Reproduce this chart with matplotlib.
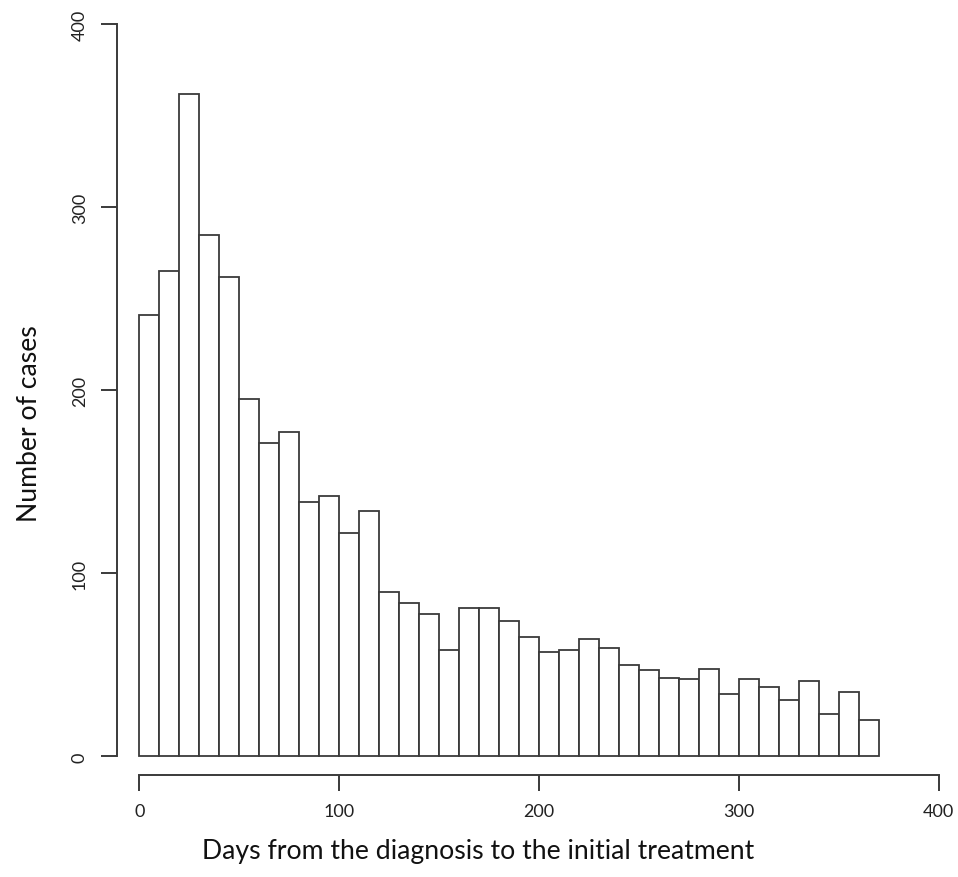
import matplotlib
matplotlib.use('Agg')
import matplotlib.pyplot as plt
import numpy as np

# bin edges (days) and counts
bins = np.arange(0, 380, 10)
counts = [241, 265, 362, 285, 262, 195, 171, 177, 139, 142,
          122, 134, 90, 84, 78, 58, 81, 81, 74, 65,
          57, 58, 64, 59, 50, 47, 43, 42, 48, 34,
          42, 38, 31, 41, 23, 35, 20]
xticks = [0, 100, 200, 300, 400]
yticks = [0, 100, 200, 300, 400]

plt.rcParams['font.family'] = ['Lato', 'DejaVu Sans']
col = '#3a3a3a'

fig = plt.figure(figsize=(9.58, 8.78), dpi=100)
ax = fig.add_axes([0.1141, 0.1061, 0.8762, 0.8757])

ax.hist(bins[:-1], bins=bins, weights=counts, histtype='bar',
        facecolor='white', edgecolor=col, linewidth=1.3)

ax.set_xlim(-15, 405)
ax.set_ylim(-15, 405)

# R style axes: detached from the plot, no box
ax.spines['top'].set_visible(False)
ax.spines['right'].set_visible(False)
ax.spines['bottom'].set_position(('data', -10))
ax.spines['left'].set_position(('data', -11))
ax.spines['bottom'].set_bounds(0, 400)
ax.spines['left'].set_bounds(0, 400)
for s in ['bottom', 'left']:
    ax.spines[s].set_color(col)
    ax.spines[s].set_linewidth(1.4)

ax.set_xticks(xticks)
ax.set_yticks(yticks)
ax.tick_params(axis='both', length=11.3, width=1.4, color=col,
               labelsize=13, labelcolor='#222222')
ax.tick_params(axis='x', pad=9)
ax.tick_params(axis='y', pad=10)
for lab in ax.get_yticklabels():
    lab.set_rotation(90)
    lab.set_va('center')

fig.text(0.499, 0.022, 'Days from the diagnosis to the initial treatment',
         ha='center', va='baseline', fontsize=19.2, color='#111111')
fig.text(0.031, 0.518, 'Number of cases', rotation=90,
         ha='center', va='center', fontsize=19.2, color='#111111')

plt.savefig('out.png', dpi=100)
